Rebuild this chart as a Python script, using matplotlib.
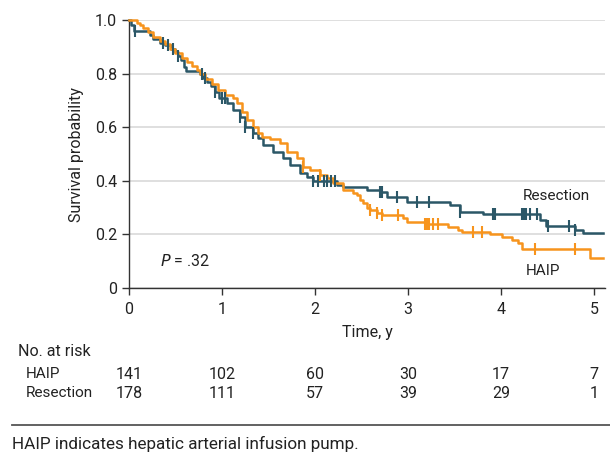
import matplotlib
matplotlib.use("Agg")
import matplotlib.pyplot as plt
import numpy as np

plt.rcParams['font.family'] = ['Roboto', 'DejaVu Sans']

# Kaplan-Meier steps (time in years, survival)
res_t = [0, 0.02, 0.05, 0.23, 0.26, 0.33, 0.39, 0.45, 0.50, 0.53, 0.56, 0.59, 0.61,
         0.76, 0.80, 0.84, 0.88, 0.92, 0.97, 1.05, 1.12, 1.19, 1.25, 1.33, 1.39,
         1.44, 1.55, 1.66, 1.73, 1.84, 1.91, 1.98, 2.24, 2.30, 2.56, 2.70, 2.77,
         2.99, 3.45, 3.56, 3.81, 4.42, 4.49, 4.80, 4.88, 5.10]
res_s = [1.0, 0.98, 0.96, 0.945, 0.93, 0.915, 0.905, 0.89, 0.88, 0.865, 0.85, 0.825, 0.81,
         0.80, 0.785, 0.77, 0.755, 0.73, 0.71, 0.69, 0.664, 0.638, 0.60, 0.578, 0.56,
         0.534, 0.507, 0.485, 0.459, 0.43, 0.414, 0.40, 0.384, 0.377, 0.366, 0.358, 0.34,
         0.32, 0.31, 0.284, 0.276, 0.254, 0.231, 0.216, 0.205, 0.205]
res_cens = [0.06, 0.37, 0.42, 0.47, 0.53, 0.78, 0.82, 0.92, 1.00, 1.03, 1.19, 1.25, 1.33,
            1.98, 2.03, 2.10, 2.13, 2.17, 2.22, 2.70, 2.71, 2.72, 2.88, 3.10, 3.23,
            3.56, 3.91, 3.94, 4.23, 4.25, 4.27, 4.31, 4.39, 4.51, 4.73, 4.80]

haip_t = [0, 0.086, 0.12, 0.15, 0.20, 0.26, 0.33, 0.39, 0.44, 0.49, 0.57, 0.62, 0.68,
          0.73, 0.76, 0.82, 0.89, 0.96, 1.03, 1.12, 1.16, 1.22, 1.27, 1.33, 1.39, 1.43,
          1.52, 1.62, 1.70, 1.81, 1.87, 1.95, 2.05, 2.13, 2.19, 2.30, 2.41, 2.45, 2.48,
          2.52, 2.56, 2.59, 2.67, 2.72, 2.95, 2.99, 3.18, 3.43, 3.54, 3.58, 3.88, 4.01,
          4.12, 4.18, 4.23, 4.96, 5.10]
haip_s = [1.0, 0.99, 0.98, 0.97, 0.955, 0.937, 0.92, 0.91, 0.89, 0.877, 0.86, 0.845, 0.83,
          0.815, 0.80, 0.78, 0.76, 0.74, 0.72, 0.71, 0.69, 0.657, 0.627, 0.60, 0.578, 0.565,
          0.555, 0.54, 0.507, 0.485, 0.45, 0.44, 0.42, 0.41, 0.39, 0.366, 0.355, 0.347, 0.328,
          0.317, 0.30, 0.29, 0.28, 0.272, 0.26, 0.246, 0.238, 0.228, 0.216, 0.21, 0.20, 0.19,
          0.18, 0.168, 0.145, 0.112, 0.112]
haip_cens = [1.87, 2.05, 2.59, 2.67, 2.72, 2.89, 3.18, 3.20, 3.21, 3.23, 3.27, 3.32,
             3.70, 3.80, 4.37, 4.80]

risk_times = [0, 1, 2, 3, 4, 5]
risk_haip = [141, 102, 60, 30, 17, 7]
risk_res = [178, 111, 57, 39, 29, 1]

teal = '#2b5767'
orange = '#f7941d'
gray = '#333333'
txt = '#222222'

fig = plt.figure(figsize=(6.1, 4.61), dpi=100)
ax = fig.add_axes([129 / 610, 173 / 461, 476 / 610, 268 / 461])

for t, s, c, col in [(res_t, res_s, res_cens, teal), (haip_t, haip_s, haip_cens, orange)]:
    ax.step(t, s, where='post', color=col, lw=1.8, clip_on=False, zorder=3)
    idx = np.searchsorted(t, c, side='right') - 1
    ax.plot(c, np.array(s)[idx], ls='none', marker='|', ms=8, mew=1.5,
            color=col, clip_on=False, zorder=4)

ax.set_xlim(0, 5.12)
ax.set_ylim(0, 1.0)
ax.set_yticks([0, 0.2, 0.4, 0.6, 0.8, 1.0])
ax.set_yticklabels(['0', '0.2', '0.4', '0.6', '0.8', '1.0'])
ax.set_xticks(risk_times)
ax.yaxis.grid(True, color='#d9d9d9', lw=1.2)
ax.set_axisbelow(True)
for sp in ['top', 'right']:
    ax.spines[sp].set_visible(False)
for sp in ['left', 'bottom']:
    ax.spines[sp].set_color(gray)
    ax.spines[sp].set_linewidth(1.0)
ax.tick_params(axis='both', colors=gray, labelcolor=txt, labelsize=11.5,
               length=5, width=1.0)
ax.tick_params(axis='x', pad=5)
ax.set_xlabel('Time, y', fontsize=11.5, color=txt, labelpad=6)
ax.set_ylabel('Survival probability', fontsize=11.5, color=txt, labelpad=8)

ax.text(4.24, 0.345, 'Resection', fontsize=11, color=txt, ha='left', va='center')
ax.text(4.27, 0.065, 'HAIP', fontsize=11, color=txt, ha='left', va='center')
ax.text(0.33, 0.10, r'$\it{P}$ = .32', fontsize=11.5, color=txt, ha='left', va='center')

# number at risk table
fig.text(18 / 610, 1 - 352 / 461, 'No. at risk', fontsize=11.5, color=txt, va='center')
fig.text(26 / 610, 1 - 374 / 461, 'HAIP', fontsize=11, color=txt, va='center')
fig.text(26 / 610, 1 - 393 / 461, 'Resection', fontsize=11, color=txt, va='center')
for x, a, b in zip(risk_times, risk_haip, risk_res):
    xf = ax.transData.transform((x, 0))[0] / fig.bbox.width
    fig.text(xf, 1 - 374 / 461, str(a), fontsize=11.5, color=txt, ha='center', va='center')
    fig.text(xf, 1 - 393 / 461, str(b), fontsize=11.5, color=txt, ha='center', va='center')

fig.add_artist(plt.Line2D([12 / 610, 1.0], [1 - 425 / 461] * 2, color='#555555', lw=1.3))
fig.text(12 / 610, 1 - 444 / 461, 'HAIP indicates hepatic arterial infusion pump.',
         fontsize=12.3, color=txt, va='center')

fig.savefig('out.png', dpi=100)
